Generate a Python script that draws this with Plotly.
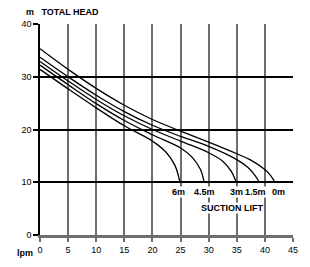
import plotly.graph_objects as go

# Flow (lpm) and total head (m) per suction lift
x_0m = [0, 5, 10, 15, 20, 25, 30, 35, 37.5, 40, 41, 41.8]
y_0m = [35.3, 31.4, 27.8, 24.6, 21.9, 19.7, 17.6, 15.4, 14.2, 12.4, 11.3, 10]
x_15m = [0, 5, 10, 15, 20, 25, 30, 35, 37, 38.3, 39]
y_15m = [33.7, 30.0, 26.5, 23.4, 20.8, 18.7, 16.8, 14.3, 12.8, 11.2, 10]
x_3m = [0, 5, 10, 15, 20, 25, 30, 32.5, 34, 34.9]
y_3m = [32.9, 29.2, 25.7, 22.6, 20.0, 17.8, 15.6, 14.0, 12.1, 10]
x_45m = [0, 5, 10, 15, 20, 25, 27, 28.5, 29.2]
y_45m = [32.2, 28.5, 24.9, 21.7, 19.0, 16.5, 14.8, 12.5, 10]
x_6m = [0, 5, 10, 15, 20, 22.5, 24, 24.9]
y_6m = [31.4, 27.7, 24.1, 20.7, 17.8, 15.6, 13.2, 10]

lift_labels = ["6m", "4.5m", "3m", "1.5m", "0m"]
lift_label_x = [24.7, 29.2, 34.9, 38.4, 42.5]
x_ticks = [0, 5, 10, 15, 20, 25, 30, 35, 40, 45]
y_ticks = [0, 10, 20, 30, 40]

FONT = "Arial, Liberation Sans, sans-serif"

fig = go.Figure()
for xs, ys in [(x_0m, y_0m), (x_15m, y_15m), (x_3m, y_3m), (x_45m, y_45m), (x_6m, y_6m)]:
    fig.add_trace(go.Scatter(x=xs, y=ys, mode="lines",
                             line=dict(color="black", width=1.3, shape="spline", smoothing=1.0),
                             showlegend=False, hoverinfo="skip"))

for lbl, lx in zip(lift_labels, lift_label_x):
    fig.add_annotation(x=lx, y=8.1, text="<b>" + lbl + "</b>", showarrow=False,
                       font=dict(family=FONT, size=9, color="black"),
                       bgcolor="white", borderpad=0)
fig.add_annotation(x=34.1, y=5.1, text="<b>SUCTION LIFT</b>", showarrow=False,
                   font=dict(family=FONT, size=9, color="black"),
                   bgcolor="white", borderpad=0)
fig.add_annotation(x=0, y=1, xref="paper", yref="paper", xanchor="left", yanchor="bottom",
                   xshift=-16, yshift=5,
                   text="<b>m</b>   <b>TOTAL HEAD</b>", showarrow=False,
                   font=dict(family=FONT, size=9, color="black"))
fig.add_annotation(x=0, y=0, xref="paper", yref="paper", xanchor="right", yanchor="top",
                   xshift=-5, yshift=-11,
                   text="<b>lpm</b>", showarrow=False,
                   font=dict(family=FONT, size=9, color="black"))

fig.update_layout(
    width=310, height=267,
    margin=dict(l=40, r=17, t=24, b=28),
    paper_bgcolor="white", plot_bgcolor="white",
    font=dict(family=FONT, size=9, color="black"),
)
fig.update_xaxes(range=[0, 45], tickvals=x_ticks, showgrid=True, gridcolor="#6e6e6e", gridwidth=1.5,
                 zeroline=False, showline=True, linecolor="#6e6e6e", linewidth=3,
                 ticks="outside", ticklen=4, tickcolor="#6e6e6e", tickwidth=1.5,
                 tickfont=dict(family=FONT, size=9, color="black"), fixedrange=True)
fig.update_yaxes(range=[0, 40], tickvals=y_ticks, showgrid=True, gridcolor="black", gridwidth=1.5,
                 zeroline=False, showline=True, linecolor="black", linewidth=1.5,
                 ticks="outside", ticklen=5, tickcolor="black", tickwidth=1.5,
                 tickfont=dict(family=FONT, size=9, color="black"), fixedrange=True)

fig.write_html("out.html")
